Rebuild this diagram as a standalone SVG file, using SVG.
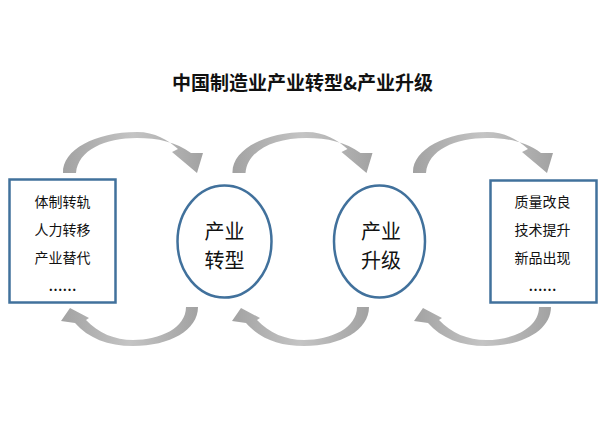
<svg xmlns="http://www.w3.org/2000/svg" width="604" height="423" viewBox="0 0 604 423">
<defs>
<linearGradient id="g" x1="0" y1="0" x2="1" y2="0">
<stop offset="0" stop-color="#A2A2A2"/>
<stop offset="0.5" stop-color="#C4C4C4"/>
<stop offset="1" stop-color="#A2A2A2"/>
</linearGradient>
<path id="topArrow" d="M 63 173 C 62 150, 95 132, 137 132 C 155 132, 168 140, 178 149 L 172 152 L 197 173 L 203 153 L 191 153 C 176 142, 158 138, 137 138 C 105 138, 78 150, 76 173 Z"/>
<path id="botArrow" d="M 198 307 C 198 330, 170 346, 133 346 C 108 346, 88 338, 75 323 L 61 321 L 70 308 L 89 318 L 86 320 C 98 333, 115 340, 133 340 C 160 340, 186 328, 186 307 Z"/>
</defs>
<style>
.box{fill:#fff;stroke:#41719C;stroke-width:2.5}
.circ{fill:#fff;stroke:#41719C;stroke-width:2.5}
.arr{fill:url(#g)}
.t{font-family:"Noto Sans CJK SC","Noto Sans",sans-serif;font-size:14px;fill:#111;text-anchor:middle}
.c{font-family:"Noto Sans CJK SC","Noto Sans",sans-serif;font-size:20px;fill:#111;text-anchor:middle}
.d{font-family:"Liberation Serif",serif;font-size:14px;font-weight:bold;fill:#111;text-anchor:middle}
.title{font-family:"Noto Sans CJK SC","Noto Sans",sans-serif;font-size:19px;font-weight:bold;fill:#111;text-anchor:middle}
</style>
<rect width="604" height="423" fill="#fff"/>
<text class="title" x="302.5" y="90">中国制造业产业转型&amp;产业升级</text>
<g id="connectors">
<use href="#topArrow" class="arr"/>
<use href="#topArrow" class="arr" transform="translate(169.5,0)"/>
<use href="#topArrow" class="arr" transform="translate(350,0)"/>
<use href="#botArrow" class="arr"/>
<use href="#botArrow" class="arr" transform="translate(171,0)"/>
<use href="#botArrow" class="arr" transform="translate(353,0)"/>
</g>
<g id="left-box">
<rect class="box" x="9.5" y="179.5" width="106" height="123"/>
<text class="t" x="62.5" y="207">体制转轨</text>
<text class="t" x="62.5" y="235">人力转移</text>
<text class="t" x="62.5" y="263">产业替代</text>
<text class="d" x="62.5" y="291">……</text>
</g>
<g id="transform">
<ellipse class="circ" cx="224.5" cy="241.5" rx="47" ry="56"/>
<text class="c" x="224.5" y="238.5">产业</text>
<text class="c" x="224.5" y="267.5">转型</text>
</g>
<g id="upgrade">
<ellipse class="circ" cx="379.5" cy="241.5" rx="45.5" ry="56"/>
<text class="c" x="381" y="238.5">产业</text>
<text class="c" x="381" y="267.5">升级</text>
</g>
<g id="right-box">
<rect class="box" x="490.5" y="180.5" width="106" height="122"/>
<text class="t" x="542.5" y="207">质量改良</text>
<text class="t" x="542.5" y="235">技术提升</text>
<text class="t" x="542.5" y="263">新品出现</text>
<text class="d" x="542.5" y="291">……</text>
</g>
</svg>
